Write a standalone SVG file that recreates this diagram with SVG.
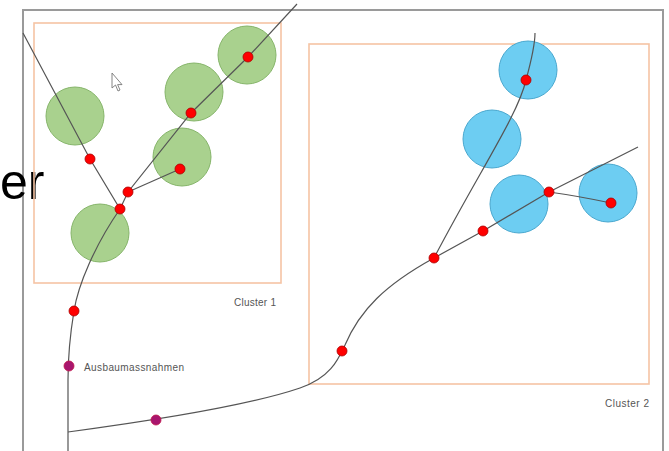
<svg xmlns="http://www.w3.org/2000/svg" width="669" height="451" viewBox="0 0 669 451">
<style>
.frame{fill:none;stroke:#9a9a9a;stroke-width:2}
.cluster{fill:none;stroke:#f5c4a4;stroke-width:1.6}
.green{fill:#a9d18e;stroke:#86b56a;stroke-width:1}
.blue{fill:#6dcdf2;stroke:#4aa8cf;stroke-width:1}
.edge{fill:none;stroke:#555;stroke-width:1.2}
.red{fill:#f00;stroke:#a00;stroke-width:0.8}
.purple{fill:#a8166e;stroke:#c0144a;stroke-width:0.8}
.lbl{font-family:"Liberation Sans",Arial,sans-serif;font-size:10px;fill:#555}
</style>
<rect width="669" height="451" fill="#fff"/>
<path class="frame" d="M23,460 V10 H663 V460"/>
<text x="0" y="199" font-family="Liberation Sans, Arial, sans-serif" font-size="50" fill="#000">er</text>
<g id="cluster1">
<rect class="cluster" x="34" y="23" width="247" height="260"/>
<text class="lbl" x="234" y="306" textLength="42">Cluster 1</text>
</g>
<g id="cluster2">
<rect class="cluster" x="309" y="44" width="340" height="340"/>
<text class="lbl" x="605" y="407" textLength="44">Cluster 2</text>
</g>
<g id="areas">
<circle class="green" cx="75" cy="116" r="29"/>
<circle class="green" cx="100" cy="233" r="29"/>
<circle class="green" cx="182" cy="157" r="29"/>
<circle class="green" cx="194" cy="92" r="29"/>
<circle class="green" cx="247" cy="55" r="29"/>
<circle class="blue" cx="528" cy="70" r="29"/>
<circle class="blue" cx="492" cy="139" r="29"/>
<circle class="blue" cx="519" cy="204" r="29"/>
<circle class="blue" cx="608" cy="193" r="29"/>
</g>
<g id="connectors">
<path class="edge" d="M23,33 L90,159 L120,209 C95,245 78,285 74,311 C70,335 68,360 68,380 L68,451"/>
<path class="edge" d="M120,209 L128,192 L191,113 L248,57 L297,4"/>
<path class="edge" d="M128,192 L180,169"/>
<path class="edge" d="M68,432 C150,421 250,405 300,388 C330,378 338,360 345,345 C360,310 385,285 434,258 L483,231 L549,192 L638,147"/>
<path class="edge" d="M549,192 Q578,196 611,203"/>
<path class="edge" d="M434,258 C480,170 518,115 526,80 C532,58 535,45 535,33"/>
</g>
<g id="cursor">
<path d="M112,73 L112,88 L115.5,85 L118,91 L120,90 L117.6,84.6 L122,84.6 Z" fill="#fff" stroke="#777" stroke-width="0.9"/>
</g>
<g id="points">
<circle class="red" cx="90" cy="159" r="5"/>
<circle class="red" cx="128" cy="192" r="5"/>
<circle class="red" cx="120" cy="209" r="5"/>
<circle class="red" cx="180" cy="169" r="5"/>
<circle class="red" cx="191" cy="113" r="5"/>
<circle class="red" cx="248" cy="57" r="5"/>
<circle class="red" cx="74" cy="311" r="5"/>
<circle class="red" cx="342" cy="351" r="5"/>
<circle class="red" cx="434" cy="258" r="5"/>
<circle class="red" cx="483" cy="231" r="5"/>
<circle class="red" cx="549" cy="192" r="5"/>
<circle class="red" cx="611" cy="203" r="5"/>
<circle class="red" cx="526" cy="80" r="5"/>
</g>
<g id="ausbau">
<circle class="purple" cx="69" cy="366" r="5"/>
<circle class="purple" cx="156" cy="420" r="5"/>
<text class="lbl" x="84" y="371" textLength="100">Ausbaumassnahmen</text>
</g>
</svg>
